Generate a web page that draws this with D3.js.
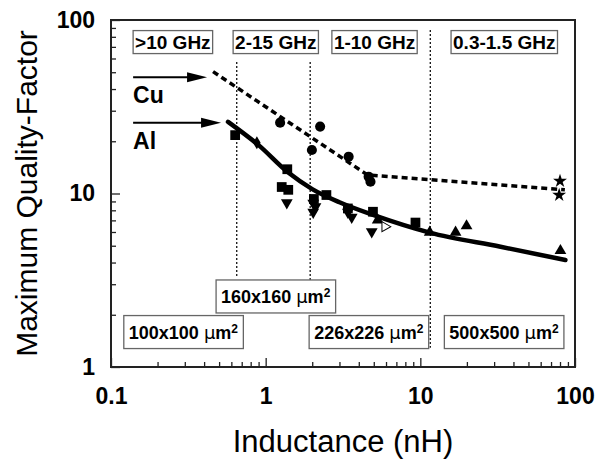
<!DOCTYPE html>
<html>
<head>
<meta charset="utf-8">
<script src="https://cdn.jsdelivr.net/npm/d3@7"></script>
<style>
  body { margin: 0; background: #fff; }
  svg { font-family: "Liberation Sans", Arial, sans-serif; }
</style>
</head>
<body>
<div id="chart"></div>
<script>
// ---- data (inductance in nH, quality factor) ----
const cuLineL = [0.457, 4.55, 86];
const cuLineQ = [50.4, 12.8, 10.5];

const alFitL = [0.571, 0.9, 1.4, 2.0, 3.0, 5.0, 11.5, 33, 86.7];
const alFitQ = [25.9, 19.0, 13.2, 10.6, 8.9, 7.5, 5.95, 4.93, 4.14];

const squareL = [0.635, 1.38, 1.27, 1.40, 2.47, 3.4, 4.94, 9.3, 2.05];
const squareQ = [21.7, 13.8, 10.9, 10.5, 9.8, 8.2, 7.85, 6.8, 9.3];

const diamondL = [0.877];
const diamondQ = [19.6];

const circleL = [1.24, 2.25, 1.99, 3.44, 4.63, 4.76];
const circleQ = [25.6, 24.3, 17.8, 16.3, 12.5, 11.7];

const downTriL = [1.37, 2.03, 2.03, 2.1, 3.4, 3.6, 4.85];
const downTriQ = [8.85, 8.8, 7.8, 8.4, 7.8, 7.3, 6.03];

const upTriL = [5.3, 11.5, 16.9, 19.9, 80.5];
const upTriQ = [7.03, 5.97, 5.97, 6.5, 4.68];

const starL = [80, 79];
const starQ = [11.8, 9.8];

const openTriL = [5.9];
const openTriQ = [6.44];

// dotted separators: L, Q top, Q bottom
const sepL = [0.65, 1.94, 11.6];
const sepQTop = [57.3, 57.3, 87.5];
const sepQBot = [3.26, 3.13, 1.29];

// annotation boxes: text, left L, centre Q
const freqText = [">10 GHz", "2-15 GHz", "1-10 GHz", "0.3-1.5 GHz"];
const freqL = [0.139, 0.616, 2.68, 15.8];
const freqQ = 74.6;

const sizeText = ["160x160", "100x100", "226x226", "500x500"];
const sizeL = [0.478, 0.121, 1.91, 14.3];
const sizeQ = [2.55, 1.59, 1.59, 1.59];

const xTicks = [0.1, 1, 10, 100];
const yTicks = [1, 10, 100];

// ---- layout ----
const width = 600, height = 459;
const margin = {left: 111, top: 20, right: 25, bottom: 92};

const svg = d3.select("#chart").append("svg")
    .attr("width", width)
    .attr("height", height);

const x = d3.scaleLog().domain([0.1, 100]).range([margin.left, width - margin.right]);
const y = d3.scaleLog().domain([1, 100]).range([height - margin.bottom, margin.top]);

// minor ticks
const minorX = [];
const minorY = [];
[0.1, 1, 10].forEach(d => { for (let k = 2; k <= 9; k++) minorX.push(d * k); });
[1, 10].forEach(d => { for (let k = 2; k <= 9; k++) minorY.push(d * k); });

const yPix = height - margin.bottom;

svg.append("g")
    .attr("transform", `translate(0,${yPix})`)
    .call(d3.axisBottom(x).tickValues(minorX).tickSize(-5).tickFormat(""))
    .call(g => g.select(".domain").remove());
svg.append("g")
    .attr("transform", `translate(${margin.left},0)`)
    .call(d3.axisLeft(y).tickValues(minorY).tickSize(-5).tickFormat(""))
    .call(g => g.select(".domain").remove());

svg.append("g")
    .attr("class", "xaxis")
    .attr("transform", `translate(0,${yPix})`)
    .call(d3.axisBottom(x).tickValues(xTicks).tickSize(-9).tickPadding(21).tickFormat(d => String(d)))
    .call(g => g.select(".domain").remove());
svg.append("g")
    .attr("class", "yaxis")
    .attr("transform", `translate(${margin.left},0)`)
    .call(d3.axisLeft(y).tickValues(yTicks).tickSize(-9).tickPadding(16).tickFormat(d => String(d)))
    .call(g => g.select(".domain").remove());

svg.selectAll(".tick line").attr("stroke", "#222").attr("stroke-width", 1.3);
svg.selectAll(".xaxis text, .yaxis text")
    .attr("font-size", 23)
    .attr("font-weight", "bold")
    .attr("fill", "#000")
    .attr("font-family", "Liberation Sans, Arial, sans-serif");

// frame
svg.append("rect")
    .attr("x", x(0.1)).attr("y", y(100))
    .attr("width", x(100) - x(0.1)).attr("height", y(1) - y(100))
    .attr("fill", "none").attr("stroke", "#222").attr("stroke-width", 2);

// axis titles
svg.append("text")
    .attr("x", (x(0.1) + x(100)) / 2).attr("y", 452)
    .attr("text-anchor", "middle")
    .attr("font-size", 31)
    .text("Inductance (nH)");
svg.append("text")
    .attr("transform", `translate(37,${(y(1) + y(100)) / 2}) rotate(-90)`)
    .attr("text-anchor", "middle")
    .attr("font-size", 30)
    .text("Maximum Quality-Factor");

// dotted separators
svg.selectAll(".sep")
    .data(sepL)
    .enter().append("line")
    .attr("x1", d => x(d)).attr("x2", d => x(d))
    .attr("y1", (d, i) => y(sepQTop[i])).attr("y2", (d, i) => y(sepQBot[i]))
    .attr("stroke", "#111").attr("stroke-width", 1.3)
    .attr("stroke-dasharray", "2,2");

// Cu dashed line
const lineGen = d3.line().x(d => x(d[0])).y(d => y(d[1]));
svg.append("path")
    .datum(cuLineL.map((d, i) => [d, cuLineQ[i]]))
    .attr("d", lineGen)
    .attr("fill", "none").attr("stroke", "#000")
    .attr("stroke-width", 3.5).attr("stroke-dasharray", "6,4");

// Al fit
svg.append("path")
    .datum(alFitL.map((d, i) => [d, alFitQ[i]]))
    .attr("d", lineGen.curve(d3.curveMonotoneX))
    .attr("fill", "none").attr("stroke", "#000")
    .attr("stroke-width", 4.5).attr("stroke-linecap", "round");

// markers
function drawMarkers(ls, qs, type, size, rot, fill) {
    svg.append("g").selectAll("path")
        .data(ls.map((d, i) => [d, qs[i]]))
        .enter().append("path")
        .attr("d", d3.symbol().type(type).size(size))
        .attr("transform", d => `translate(${x(d[0])},${y(d[1])}) rotate(${rot})`)
        .attr("fill", fill || "#000")
        .attr("stroke", "#000")
        .attr("stroke-width", fill ? 1 : 0);
}
drawMarkers(squareL, squareQ, d3.symbolSquare, 95, 0);
drawMarkers(diamondL, diamondQ, d3.symbolDiamond, 50, 0);
drawMarkers(circleL, circleQ, d3.symbolCircle, 80, 0);
drawMarkers(downTriL, downTriQ, d3.symbolTriangle, 60, 180);
drawMarkers(upTriL, upTriQ, d3.symbolTriangle, 60, 0);
drawMarkers(starL, starQ, d3.symbolStar, 60, 0);
drawMarkers(openTriL, openTriQ, d3.symbolTriangle, 45, -30, "#fff");

// annotation boxes
function drawBox(textFn, l, q, h, pad, fs) {
    const g = svg.append("g");
    const t = g.append("text")
        .attr("x", x(l) + pad).attr("y", y(q))
        .attr("dy", "0.36em")
        .attr("font-size", fs).attr("font-weight", "bold");
    textFn(t);
    const bb = t.node().getBBox();
    g.insert("rect", "text")
        .attr("x", x(l)).attr("y", y(q) - h / 2)
        .attr("width", bb.width + pad * 2).attr("height", h)
        .attr("fill", "#fff").attr("stroke", "#666").attr("stroke-width", 1.3);
}
freqText.forEach((s, i) => drawBox(t => t.text(s), freqL[i], freqQ, 23, 2, 19));
sizeText.forEach((s, i) => drawBox(t => {
    t.append("tspan").text(s + " ");
    t.append("tspan").attr("font-weight", "normal").attr("font-family", "DejaVu Sans").text("\u03bc");
    t.append("tspan").text("m");
    t.append("tspan").attr("font-size", 12).attr("dy", "-0.5em").text("2");
}, sizeL[i], sizeQ[i], 33, 5, 18));

// Cu / Al labels with arrows
const arrowL = [[0.139, 0.418], [0.139, 0.515]];
const arrowQ = [46.8, 25.6];
const labelText = ["Cu", "Al"];
const labelQ = [33.1, 18.0];
arrowL.forEach((a, i) => {
    const x0 = x(a[0]), x1 = x(a[1]), yy = y(arrowQ[i]);
    svg.append("line")
        .attr("x1", x0).attr("x2", x1 - 18).attr("y1", yy).attr("y2", yy)
        .attr("stroke", "#000").attr("stroke-width", 2);
    svg.append("path")
        .attr("d", `M${x1},${yy} L${x1 - 20},${yy - 5} L${x1 - 20},${yy + 5} Z`)
        .attr("fill", "#000");
    svg.append("text")
        .attr("x", x0).attr("y", y(labelQ[i]))
        .attr("font-size", 23).attr("font-weight", "bold")
        .text(labelText[i]);
});
</script>
</body>
</html>
